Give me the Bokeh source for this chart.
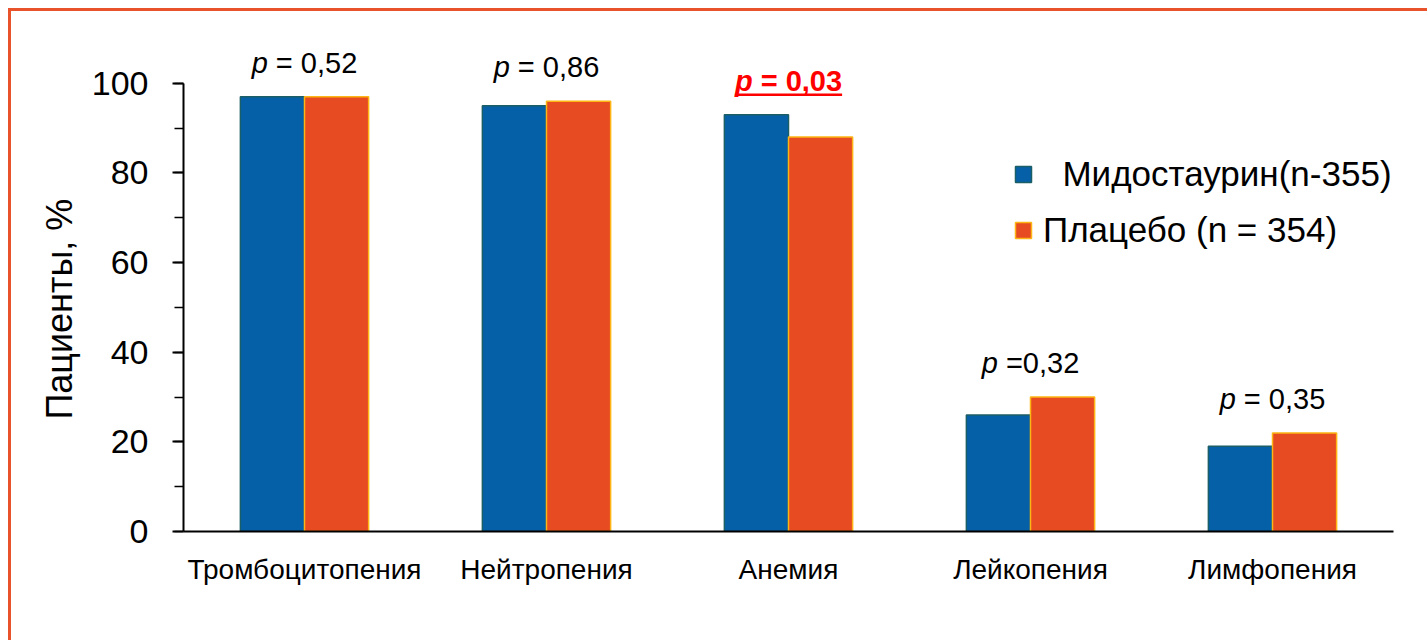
from bokeh.plotting import figure
from bokeh.models import (ColumnDataSource, FactorRange, Range1d, SingleIntervalTicker,
                          Legend, LegendItem)
from bokeh.transform import dodge
from bokeh.core.properties import value
from bokeh.embed import file_html
from bokeh.resources import INLINE

# ---- data -------------------------------------------------------------
categories = ["Тромбоцитопения", "Нейтропения", "Анемия", "Лейкопения", "Лимфопения"]
midostaurin = [97, 95, 93, 26, 19]
placebo = [97, 96, 88, 30, 22]
p_values = ["0,52", "0,86", "0,03", "0,32", "0,35"]
p_separators = ["\u00a0= ", "\u00a0= ", "\u00a0= ", "\u00a0=", "\u00a0= "]
significant = [False, False, True, False, False]
series_names = ["\u00a0\u00a0Мидостаурин(n-355)", "Плацебо (n = 354)"]
y_label = "Пациенты, %"

# ---- style ------------------------------------------------------------
FONT = "Liberation Sans"
BLUE, BLUE_EDGE = "#0560A8", "#1B5E66"
ORANGE, ORANGE_EDGE = "#E64B21", "#FDB515"
FRAME_ORANGE = "#E8532B"
Y_MAX = 112
FRAME_W, FRAME_H = 1210, 502
PX_PER_UNIT = FRAME_H / Y_MAX
BAR_W = 0.265
P_SIZE = 29
P_GAP = 34  # offset of the p-labels above the taller bar

# approximate advance widths (em) used to centre mixed-style labels
ADV = {"p": 0.556, " ": 0.278, "\u00a0": 0.278, "=": 0.584, ",": 0.278}
ADV_BOLD = {"p": 0.611, " ": 0.278, "\u00a0": 0.278, "=": 0.584, ",": 0.278}


def text_width(s, size, bold=False):
    table = ADV_BOLD if bold else ADV
    return sum(table.get(ch, 0.556) for ch in s) * size


src = ColumnDataSource(dict(cat=categories, mido=midostaurin, plac=placebo))

p = figure(x_range=FactorRange(factors=categories, range_padding=0),
           y_range=Range1d(0, Y_MAX),
           frame_width=FRAME_W, frame_height=FRAME_H,
           min_border_left=172, min_border_top=18,
           min_border_right=34, min_border_bottom=109,
           output_backend="svg", toolbar_location=None)
p.styles = {"border-top": f"3px solid {FRAME_ORANGE}",
            "border-left": f"3px solid {FRAME_ORANGE}",
            "margin-top": "8px", "margin-left": "8px"}

p.background_fill_color = "white"
p.border_fill_color = "white"
p.outline_line_color = None
p.xgrid.grid_line_color = None
p.ygrid.grid_line_color = None

r_mido = p.vbar(x=dodge("cat", -BAR_W / 2, range=p.x_range), top="mido", width=BAR_W,
                source=src, fill_color=BLUE, line_color=BLUE_EDGE, line_width=1.5)
r_plac = p.vbar(x=dodge("cat", BAR_W / 2, range=p.x_range), top="plac", width=BAR_W,
                source=src, fill_color=ORANGE, line_color=ORANGE_EDGE, line_width=1.5)

# p-value labels: italic "p" followed by the upright remainder
for cat, m, pl, sep, val, sig in zip(categories, midostaurin, placebo,
                                     p_separators, p_values, significant):
    top = max(m, pl)
    rest = sep + val
    w_p = text_width("p", P_SIZE, sig)
    w_all = w_p + text_width(rest, P_SIZE, sig)
    color = "#FF0000" if sig else "black"
    p.text(x=[cat], y=[top], text=["p"], x_offset=-w_all / 2, y_offset=-P_GAP,
           text_align="left", text_baseline="alphabetic",
           text_font=value(FONT), text_font_size=f"{P_SIZE}px",
           text_font_style="bold italic" if sig else "italic", text_color=color)
    p.text(x=[cat], y=[top], text=[rest], x_offset=-w_all / 2 + w_p, y_offset=-P_GAP,
           text_align="left", text_baseline="alphabetic",
           text_font=value(FONT), text_font_size=f"{P_SIZE}px",
           text_font_style="bold" if sig else "normal", text_color=color)
    if sig:
        # underline just below the label baseline
        p.rect(x=[cat], y=[top + (P_GAP - 14) / PX_PER_UNIT], width=w_all, height=2.5,
               width_units="screen", height_units="screen",
               fill_color=color, line_color=None)

# axes
xa = p.xaxis[0]
xa.axis_line_width = 2
xa.axis_line_color = "black"
xa.major_tick_line_color = None
xa.minor_tick_line_color = None
xa.major_label_text_font = FONT
xa.major_label_text_font_size = "28px"
xa.major_label_text_color = "black"
xa.major_label_standoff = 16

ya = p.yaxis[0]
ya.bounds = (0, 100)
ya.ticker = SingleIntervalTicker(interval=20, num_minor_ticks=2)
ya.axis_line_width = 2
ya.axis_line_color = "black"
ya.major_tick_in = 0
ya.major_tick_out = 11
ya.minor_tick_in = 0
ya.minor_tick_out = 9
ya.major_tick_line_width = 2
ya.minor_tick_line_width = 1.5
ya.major_tick_line_color = "black"
ya.minor_tick_line_color = "black"
ya.major_label_text_font = FONT
ya.major_label_text_font_size = "34px"
ya.major_label_text_color = "black"
ya.major_label_standoff = 24
# trailing no-break spaces keep the title centred on the 0-100 part of the axis
ya.axis_label = y_label + "\u00a0" * 5 + "\u202f"
ya.axis_label_text_font = FONT
ya.axis_label_text_font_size = "36px"
ya.axis_label_text_font_style = "normal"
ya.axis_label_text_color = "black"
ya.axis_label_standoff = 9

legend = Legend(items=[LegendItem(label=series_names[0], renderers=[r_mido]),
                       LegendItem(label=series_names[1], renderers=[r_plac])],
                location=(830, 281), orientation="vertical",
                glyph_width=20, glyph_height=20, label_standoff=10,
                spacing=16, padding=0, margin=0,
                border_line_alpha=0, background_fill_alpha=0,
                label_text_font=FONT, label_text_font_size="35px",
                label_text_color="black")
p.add_layout(legend)

open("out.html", "w").write(file_html(p, INLINE))
